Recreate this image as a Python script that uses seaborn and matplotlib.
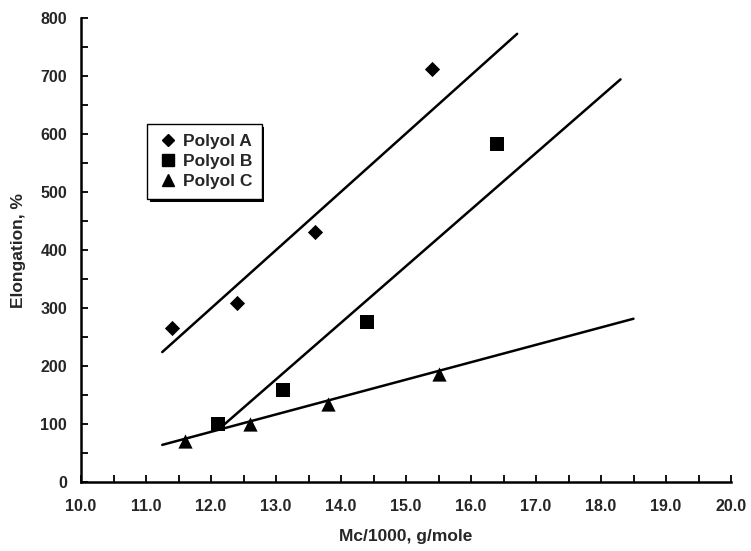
import numpy as np
import pandas as pd
import matplotlib
matplotlib.use("Agg")
import matplotlib.pyplot as plt
import seaborn as sns
from matplotlib.ticker import MultipleLocator, FormatStrFormatter
from matplotlib import patheffects as pe

# ---- data ----
series_names = ["Polyol A", "Polyol B", "Polyol C"]
polyol_a_x = [11.4, 12.4, 13.6, 15.4]
polyol_a_y = [265, 309, 431, 712]
polyol_b_x = [12.1, 13.1, 14.4, 16.4]
polyol_b_y = [100, 158, 276, 583]
polyol_c_x = [11.6, 12.6, 13.8, 15.5]
polyol_c_y = [70, 100, 134, 186]

# trend lines (slope, intercept, x range)
trend_slope = [100.5, 97.6, 30.0]
trend_intercept = [-906.6, -1091.9, -273.5]
trend_x_start = [11.25, 12.14, 11.25]
trend_x_end = [16.71, 18.3, 18.5]

x_ticks = [10.0, 11.0, 12.0, 13.0, 14.0, 15.0, 16.0, 17.0, 18.0, 19.0, 20.0]
y_ticks = [0, 100, 200, 300, 400, 500, 600, 700, 800]

sns.set_theme(style="white")
plt.rcParams["font.family"] = ["Liberation Sans", "DejaVu Sans"]
plt.rcParams["font.weight"] = "bold"

fig = plt.figure(figsize=(7.51, 5.51), dpi=100)
ax = fig.add_axes([81 / 751, 1 - 482 / 551, 650 / 751, 464 / 551])

df = pd.DataFrame({
    "x": polyol_a_x + polyol_b_x + polyol_c_x,
    "y": polyol_a_y + polyol_b_y + polyol_c_y,
    "series": [series_names[0]] * 4 + [series_names[1]] * 4 + [series_names[2]] * 4,
})

markers = {"Polyol A": "D", "Polyol B": "s", "Polyol C": "^"}
sizes = {"Polyol A": 60, "Polyol B": 95, "Polyol C": 105}
leg_sizes = {"Polyol A": 6.5, "Polyol B": 8.5, "Polyol C": 9}

# trend lines
for i, name in enumerate(series_names):
    xs = np.array([trend_x_start[i], trend_x_end[i]])
    ys = trend_slope[i] * xs + trend_intercept[i]
    sns.lineplot(x=xs, y=ys, ax=ax, color="black", linewidth=1.8, legend=False)

handles = []
for name in series_names:
    sub = df[df["series"] == name]
    sns.scatterplot(data=sub, x="x", y="y", ax=ax, marker=markers[name],
                    s=sizes[name], color="black", edgecolor="black",
                    linewidth=0, legend=False, zorder=5)
    handles.append(plt.Line2D([], [], linestyle="none", marker=markers[name],
                              color="black", markersize=leg_sizes[name],
                              label=name))

ax.set_xlim(10, 20)
ax.set_ylim(0, 800)
ax.set_xticks(x_ticks)
ax.set_yticks(y_ticks)
ax.xaxis.set_major_formatter(FormatStrFormatter("%.1f"))
ax.xaxis.set_minor_locator(MultipleLocator(0.5))
ax.yaxis.set_minor_locator(MultipleLocator(50))
ax.tick_params(which="both", direction="in", length=5, width=1.3, color="black",
               bottom=True, left=True, top=False, right=False)
ax.tick_params(which="major", labelsize=11.5)
ax.tick_params(axis="x", which="major", pad=12)
ax.tick_params(axis="y", which="major", pad=10)
for lab in ax.get_xticklabels() + ax.get_yticklabels():
    lab.set_fontweight("bold")

for side in ["top", "right"]:
    ax.spines[side].set_visible(False)
for side in ["left", "bottom"]:
    ax.spines[side].set_color("black")
    ax.spines[side].set_linewidth(1.8)

ax.set_xlabel("Mc/1000, g/mole", fontsize=12.5, fontweight="bold", labelpad=11)
ax.set_ylabel("Elongation, %", fontsize=12.5, fontweight="bold", labelpad=10)

leg = ax.legend(handles=handles, loc="upper left", bbox_to_anchor=(66 / 650, 358 / 464),
                borderaxespad=0, frameon=True, fancybox=False, shadow=False,
                edgecolor="black", framealpha=1,
                handlelength=1.3, handletextpad=0.2, labelspacing=0.3,
                borderpad=0.55, prop={"weight": "bold", "size": 12.5})
frame = leg.get_frame()
frame.set_linewidth(1.0)
frame.set_path_effects([pe.SimplePatchShadow(offset=(2.0, -2.0), shadow_rgbFace="black", alpha=1.0),
                        pe.Normal()])

fig.savefig("out.png", dpi=100)
